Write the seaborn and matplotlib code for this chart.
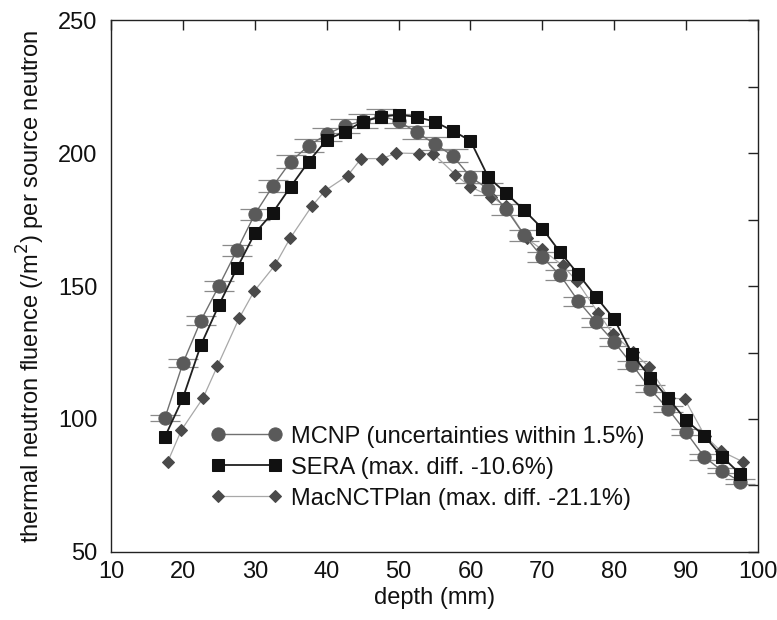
import numpy as np
import pandas as pd
import matplotlib
matplotlib.use("Agg")
import matplotlib.pyplot as plt
import seaborn as sns

# ---- data ----
depth_ms = [17.5, 20, 22.5, 25, 27.5, 30, 32.5, 35, 37.5, 40, 42.5, 45, 47.5, 50,
            52.5, 55, 57.5, 60, 62.5, 65, 67.5, 70, 72.5, 75, 77.5, 80, 82.5, 85,
            87.5, 90, 92.5, 95, 97.5]
mcnp = [100.4, 121, 137, 150, 163.4, 177, 187.5, 196.8, 202.8, 207, 210.2, 212, 214,
        212, 207.8, 203.5, 199, 191, 186.4, 178.8, 169, 160.8, 154, 144.3, 136.4,
        128.9, 120.4, 111.3, 103.7, 95, 85.8, 80.5, 76.5]
sera = [93.3, 107.9, 127.8, 142.8, 156.6, 169.8, 177.6, 187.4, 196.8, 205, 208, 211.8,
        213.6, 214.4, 213.6, 211.8, 208.4, 204.6, 190.8, 184.8, 178.4, 171.6, 162.6,
        154.4, 145.8, 137.5, 124.4, 115.6, 107.8, 99.5, 93.7, 85.8, 79.4]
depth_mac = [17.9, 19.8, 22.8, 24.8, 27.8, 29.9, 32.8, 34.9, 37.9, 39.8, 42.9, 44.8,
             47.7, 49.7, 52.9, 54.8, 57.9, 59.9, 62.9, 64.9, 67.8, 69.9, 72.8, 74.8,
             77.8, 79.8, 82.6, 84.8, 87.6, 89.8, 92.6, 94.8, 97.9]
mac = [84, 95.9, 107.9, 119.9, 137.8, 148, 157.8, 167.9, 179.9, 185.9, 191.5, 197.9,
       197.9, 200, 199.8, 199.8, 191.9, 187.4, 183.6, 179.9, 167.9, 163.8, 157.8,
       151.8, 139.8, 132, 125.3, 119.7, 107.9, 107.5, 93.7, 88, 83.9]
mcnp_err_frac = 0.012

labels = ["MCNP (uncertainties within 1.5%)",
          "SERA (max. diff. -10.6%)",
          "MacNCTPlan (max. diff. -21.1%)"]
xticks = [10, 20, 30, 40, 50, 60, 70, 80, 90, 100]
yticks = [50, 100, 150, 200, 250]

df_ms = pd.DataFrame({"depth": depth_ms, "MCNP": mcnp, "SERA": sera})
df_mac = pd.DataFrame({"depth": depth_mac, "MacNCTPlan": mac})

sns.set_theme(style="white")
plt.rcParams['font.family'] = ['Liberation Sans', 'DejaVu Sans']
plt.rcParams['text.color'] = '#111111'
plt.rcParams['axes.labelcolor'] = '#111111'
plt.rcParams['xtick.color'] = '#111111'
plt.rcParams['ytick.color'] = '#111111'

fig = plt.figure(figsize=(7.77, 6.2), dpi=100)
ax = fig.add_axes([0.1429, 0.1097, 0.8327, 0.8580])

# MCNP error bar caps
ax.errorbar(df_ms["depth"], df_ms["MCNP"], yerr=np.array(mcnp) * mcnp_err_frac,
            fmt="none", ecolor="#8a8a8a", elinewidth=0.8, capsize=11,
            capthick=0.9, zorder=2)

sns.lineplot(data=df_mac, x="depth", y="MacNCTPlan", ax=ax, color="#a8a8a8",
             linewidth=0.9, marker="D", markersize=6.5, markerfacecolor="#4a4a4a",
             markeredgecolor="#4a4a4a", label=labels[2], zorder=3)
sns.lineplot(data=df_ms, x="depth", y="MCNP", ax=ax, color="#707070",
             linewidth=1.0, marker="o", markersize=9.5, markerfacecolor="#5a5a5a",
             markeredgecolor="#5a5a5a", label=labels[0], zorder=4)
sns.lineplot(data=df_ms, x="depth", y="SERA", ax=ax, color="#202020",
             linewidth=1.3, marker="s", markersize=8.3, markerfacecolor="#111111",
             markeredgecolor="#111111", label=labels[1], zorder=5)

ax.set_xlim(10, 100)
ax.set_ylim(50, 250)
ax.set_xticks(xticks)
ax.set_yticks(yticks)
ax.set_yticks(np.arange(50, 251, 25), minor=True)
ax.tick_params(axis="both", which="both", direction="in", top=True, right=True,
               labelsize=17, color="#222222", labelcolor="#111111")
ax.tick_params(which="major", length=7, width=1)
ax.tick_params(which="minor", length=7, width=1)
ax.tick_params(axis="x", which="major", pad=6.5)
ax.tick_params(axis="y", which="major", pad=10)
for s in ax.spines.values():
    s.set_color("#222222")
    s.set_linewidth(1.0)

ax.set_xlabel("depth (mm)", fontsize=17, labelpad=3)
ax.set_ylabel("thermal neutron fluence (/m$^2$) per source neutron", fontsize=17,
              labelpad=8)

h, l = ax.get_legend_handles_labels()
order = [l.index(t) for t in labels]
leg = ax.legend([h[i] for i in order], [l[i] for i in order], loc="lower left",
                bbox_to_anchor=(0.14, 0.062), numpoints=2, frameon=False,
                fontsize=17, handlelength=3.0, handletextpad=0.4,
                labelspacing=0.38, borderaxespad=0)

fig.savefig("out.png", dpi=100)
